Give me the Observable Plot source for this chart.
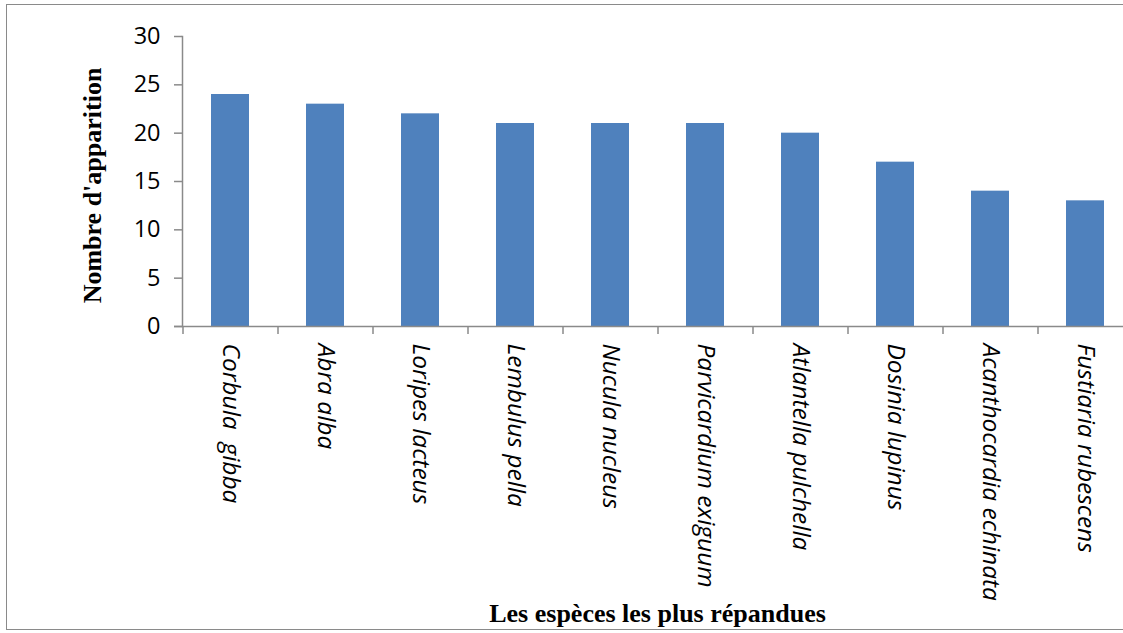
<!DOCTYPE html>
<html>
<head>
<meta charset="utf-8">
<script src="https://cdn.jsdelivr.net/npm/d3@7"></script>
<script src="https://cdn.jsdelivr.net/npm/@observablehq/plot@0.6"></script>
<style>
  html, body { margin: 0; padding: 0; background: white; overflow: hidden; }
  #wrap { position: relative; width: 1123px; height: 633px; overflow: hidden; }
  #border { position: absolute; left: 6px; top: 4px; width: 1300px; height: 626px; border: 1.5px solid #8a8a8a; box-sizing: border-box; pointer-events: none; }
</style>
</head>
<body>
<div id="wrap"><div id="border"></div></div>
<script>
const species = ["Corbula  gibba", "Abra alba", "Loripes lacteus", "Lembulus pella", "Nucula nucleus",
  "Parvicardium exiguum", "Atlantella pulchella", "Dosinia lupinus", "Acanthocardia echinata", "Fustiaria rubescens"];
const counts = [24, 23, 22, 21, 21, 21, 20, 17, 14, 13];
const yTicks = [0, 5, 10, 15, 20, 25, 30];
const yTitle = "Nombre d'apparition";
const xTitle = "Les espèces les plus répandues";

const data = species.map((s, i) => ({species: s, count: counts[i]}));
const axisGray = "#8a8a8a";
const sans = "'Open Sans', Lato, sans-serif";
const serif = "'Liberation Serif', 'DejaVu Serif', serif";

const chart = Plot.plot({
  width: 1123,
  height: 633,
  marginLeft: 182,
  marginTop: 36,
  marginBottom: 307,
  marginRight: 0,
  style: {background: "transparent", overflow: "visible"},
  x: {domain: species, range: [182, 1132], paddingInner: 0.6, paddingOuter: 0.3},
  y: {domain: [0, 30]},
  marks: [
    Plot.barY(data, {x: "species", y: "count", fill: "#4F81BD"}),
    Plot.frame({anchor: "left", stroke: axisGray, strokeWidth: 1.5, strokeOpacity: 1}),
    Plot.ruleY([0], {stroke: axisGray, strokeWidth: 1.5, insetLeft: -8}),
    Plot.axisY({ticks: yTicks, tickSize: 8, tickPadding: 14, label: null, fontSize: 23.5,
      fontFamily: sans, stroke: axisGray, strokeWidth: 1.5, strokeOpacity: 1, fill: "black", color: "black"}),
    Plot.axisX({ticks: species, tickSize: 8, text: null, label: null, dx: -47.5,
      stroke: axisGray, strokeWidth: 1.5, strokeOpacity: 1}),
    Plot.axisX({ticks: species, tickSize: 0, tickPadding: 17, tickRotate: 90, label: null,
      fontSize: 24.5, fontFamily: sans, fontStyle: "italic", fill: "black"}),
    Plot.text([yTitle], {frameAnchor: "left", dx: -90, dy: 4, rotate: -90, fontSize: 26,
      fontWeight: "bold", fontFamily: serif, fill: "black", lineAnchor: "middle", textAnchor: "middle"}),
    Plot.text([xTitle], {frameAnchor: "bottom", dx: 4.5, dy: 287, fontSize: 26,
      fontWeight: "bold", fontFamily: serif, fill: "black", lineAnchor: "middle", textAnchor: "middle"})
  ]
});
document.getElementById("wrap").appendChild(chart);
chart.style.position = "absolute";
chart.style.left = "0px";
chart.style.top = "0px";
</script>
</body>
</html>
